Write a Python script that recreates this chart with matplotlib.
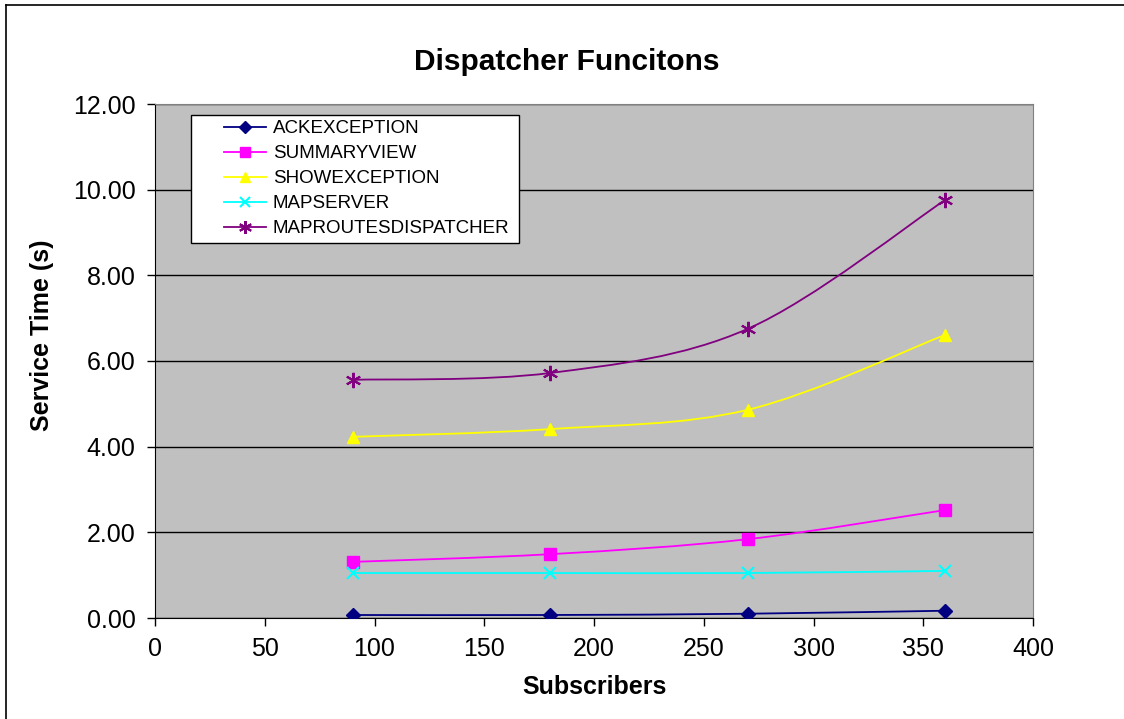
import numpy as np
import matplotlib.pyplot as plt
from matplotlib.path import Path
from matplotlib.patches import PathPatch, Rectangle
from matplotlib.lines import Line2D

plt.rcParams['font.family'] = ['Liberation Sans', 'DejaVu Sans']

# ── Data ───────────────────────────────────────────────────
subscribers = [90, 180, 270, 360]
ackexception = [0.07, 0.07, 0.10, 0.17]
summaryview = [1.31, 1.49, 1.84, 2.52]
showexception = [4.23, 4.41, 4.86, 6.61]
mapserver = [1.05, 1.05, 1.05, 1.10]
maproutes = [5.56, 5.72, 6.75, 9.76]

series = [
    ("ACKEXCEPTION", ackexception, "#000080", "D", 7),
    ("SUMMARYVIEW", summaryview, "#FF00FF", "s", 8),
    ("SHOWEXCEPTION", showexception, "#FFFF00", "^", 9),
    ("MAPSERVER", mapserver, "#00FFFF", "x", 9),
    ("MAPROUTESDISPATCHER", maproutes, "#800080", (6, 2, 0), 11),
]

W, H = 1124, 719
AX_L, AX_R, AX_T, AX_B = 155, 1033, 104, 618


def smooth_path(xs, ys):
    # Bezier segments with Catmull-Rom style tangents (like spreadsheet smoothing)
    pts = np.column_stack([xs, ys]).astype(float)
    n = len(pts)
    verts = [pts[0]]
    codes = [Path.MOVETO]
    for i in range(n - 1):
        p0 = pts[i - 1] if i > 0 else pts[i]
        p1, p2 = pts[i], pts[i + 1]
        p3 = pts[i + 2] if i + 2 < n else pts[i + 1]
        c1 = p1 + (p2 - p0) / 6.0
        c2 = p2 - (p3 - p1) / 6.0
        verts += [c1, c2, p2]
        codes += [Path.CURVE4] * 3
    return Path(verts, codes)


def ax_x(px):
    return (px - AX_L) / (AX_R - AX_L)


def ax_y(py):
    return (AX_B - py) / (AX_B - AX_T)


fig = plt.figure(figsize=(W / 100, H / 100), dpi=100, facecolor="white")
ax = fig.add_axes([AX_L / W, 1 - AX_B / H, (AX_R - AX_L) / W, (AX_B - AX_T) / H])
ax.set_facecolor("#C0C0C0")

for label, vals, color, marker, ms in series:
    ax.add_patch(PathPatch(smooth_path(subscribers, vals), facecolor="none",
                           edgecolor=color, lw=1.3, zorder=3))
    mew = 1.5 if marker in ("x", (6, 2, 0)) else 1
    ax.plot(subscribers, vals, ls="none", marker=marker, ms=ms, color=color,
            mec=color, mew=mew, zorder=4)

ax.set_xlim(0, 400)
ax.set_ylim(0, 12)
ax.set_xticks(np.arange(0, 401, 50))
ax.set_yticks(np.arange(0, 12.01, 2))
ax.set_yticklabels([f"{v:.2f}" for v in np.arange(0, 12.01, 2)])
ax.yaxis.grid(True, color="black", lw=1)
ax.set_axisbelow(True)
ax.tick_params(direction="out", length=6, width=1, labelsize=18, pad=8)
for side in ("top", "right"):
    ax.spines[side].set_color("#808080")
for side in ("left", "bottom"):
    ax.spines[side].set_color("black")

ax.set_xlabel("Subscribers", fontsize=18, fontweight="bold", va="center")
ax.xaxis.set_label_coords(0.5, ax_y(687))
ax.set_ylabel("Service Time (s)", fontsize=18, fontweight="bold", va="center")
ax.yaxis.set_label_coords(ax_x(42), ax_y(335))
fig.text(567 / W, 1 - 62 / H, "Dispatcher Funcitons", ha="center",
         va="center", fontsize=21.5, fontweight="bold")

# legend: white box plus frameless entries
ax.add_patch(Rectangle((ax_x(191), ax_y(243)), ax_x(519) - ax_x(191),
                       ax_y(115) - ax_y(243), transform=ax.transAxes,
                       facecolor="white", edgecolor="black", lw=1, zorder=5))
handles = [Line2D([0], [0], color=c, marker=m, ms=ms * 0.85, lw=1.3,
                  mew=1.5 if m in ("x", (6, 2, 0)) else 1)
           for _, _, c, m, ms in series]
leg = ax.legend(handles, [s[0] for s in series], loc="upper left",
                bbox_to_anchor=(ax_x(224), ax_y(120)), fontsize=13.5,
                frameon=False, handlelength=2.25, labelspacing=0.42,
                borderpad=0, handletextpad=0.35, borderaxespad=0)
leg.set_zorder(6)

# outer chart border (left and top edges)
fig.add_artist(Line2D([6 / W, 6 / W], [0, 1 - 5 / H],
                      transform=fig.transFigure, color="black", lw=1.2))
fig.add_artist(Line2D([6 / W, 1], [1 - 5 / H, 1 - 5 / H],
                      transform=fig.transFigure, color="black", lw=1.2))

fig.savefig("out.png", dpi=100, facecolor="white")
